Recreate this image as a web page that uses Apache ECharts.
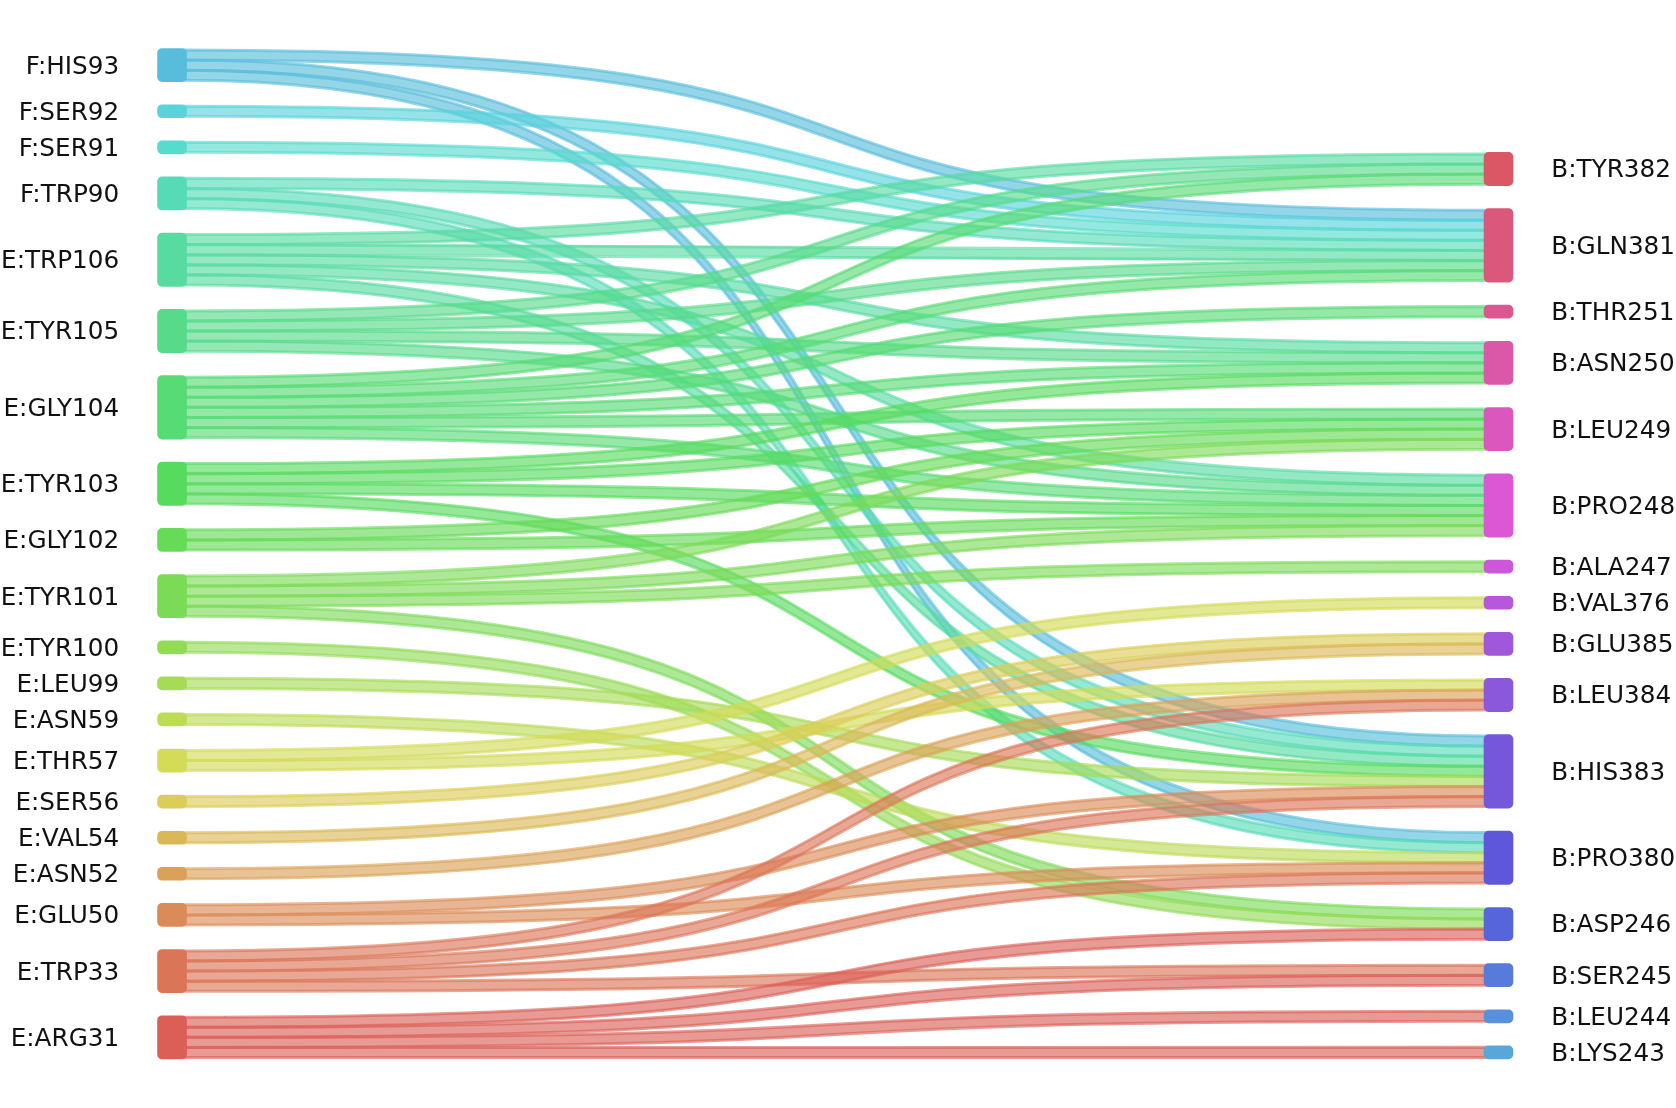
<!DOCTYPE html>
<html>
<head>
<meta charset="utf-8">
<script src="https://cdn.jsdelivr.net/npm/echarts@6/dist/echarts.min.js"></script>
<style>
html,body{margin:0;padding:0;background:#ffffff;}
#chart{width:1676px;height:1108px;}
</style>
</head>
<body>
<div id="chart"></div>
<script>
// ---------------- data ----------------
// left column, top to bottom
const leftNodes = ['F:HIS93','F:SER92','F:SER91','F:TRP90','E:TRP106','E:TYR105','E:GLY104','E:TYR103','E:GLY102','E:TYR101','E:TYR100','E:LEU99','E:ASN59','E:THR57','E:SER56','E:VAL54','E:ASN52','E:GLU50','E:TRP33','E:ARG31'];
// right column, top to bottom
const rightNodes = ['B:TYR382','B:GLN381','B:THR251','B:ASN250','B:LEU249','B:PRO248','B:ALA247','B:VAL376','B:GLU385','B:LEU384','B:HIS383','B:PRO380','B:ASP246','B:SER245','B:LEU244','B:LYS243'];

const linkSources = [
  'F:HIS93','F:HIS93','F:HIS93',
  'F:SER92',
  'F:SER91',
  'F:TRP90','F:TRP90','F:TRP90',
  'E:TRP106','E:TRP106','E:TRP106','E:TRP106','E:TRP106',
  'E:TYR105','E:TYR105','E:TYR105','E:TYR105',
  'E:GLY104','E:GLY104','E:GLY104','E:GLY104','E:GLY104','E:GLY104',
  'E:TYR103','E:TYR103','E:TYR103','E:TYR103',
  'E:GLY102','E:GLY102',
  'E:TYR101','E:TYR101','E:TYR101','E:TYR101',
  'E:TYR100',
  'E:LEU99',
  'E:ASN59',
  'E:THR57','E:THR57',
  'E:SER56',
  'E:VAL54',
  'E:ASN52',
  'E:GLU50','E:GLU50',
  'E:TRP33','E:TRP33','E:TRP33','E:TRP33',
  'E:ARG31','E:ARG31','E:ARG31','E:ARG31'
];
const linkTargets = [
  'B:GLN381','B:HIS383','B:PRO380',
  'B:GLN381',
  'B:GLN381',
  'B:GLN381','B:HIS383','B:PRO380',
  'B:TYR382','B:GLN381','B:ASN250','B:PRO248','B:HIS383',
  'B:TYR382','B:GLN381','B:ASN250','B:PRO248',
  'B:TYR382','B:GLN381','B:THR251','B:ASN250','B:LEU249','B:PRO248',
  'B:ASN250','B:LEU249','B:PRO248','B:HIS383',
  'B:LEU249','B:PRO248',
  'B:LEU249','B:PRO248','B:ALA247','B:ASP246',
  'B:ASP246',
  'B:HIS383',
  'B:PRO380',
  'B:VAL376','B:LEU384',
  'B:GLU385',
  'B:GLU385',
  'B:LEU384',
  'B:HIS383','B:PRO380',
  'B:LEU384','B:HIS383','B:PRO380','B:SER245',
  'B:ASP246','B:SER245','B:LEU244','B:LYS243'
];
const linkValues = [
  1,1,1, 1, 1, 1,1,1, 1,1,1,1,1, 1,1,1,1, 1,1,1,1,1,1, 1,1,1,1, 1,1, 1,1,1,1,
  1, 1, 1, 1,1, 1, 1, 1, 1,1, 1,1,1,1, 1,1,1,1
];

// ---------------- style / layout ----------------
const TOP = 50, BOTTOM = 50.5, NODE_GAP = 26, NODE_W = 26;
const LINK_ALPHA = 0.63;

// seaborn-like "hls" palette (l=0.6, s=0.65, hue offset 0.01)
function hlsColor(i, n) {
  const h = ((i / n) + 0.01) % 1, l = 0.6, s = 0.65;
  const m2 = l + s - l * s, m1 = 2 * l - m2;
  const v = (hh) => {
    hh = ((hh % 1) + 1) % 1;
    if (hh < 1 / 6) return m1 + (m2 - m1) * hh * 6;
    if (hh < 0.5) return m2;
    if (hh < 2 / 3) return m1 + (m2 - m1) * (2 / 3 - hh) * 6;
    return m1;
  };
  return [v(h + 1 / 3), v(h), v(h - 1 / 3)].map(x => Math.round(x * 255));
}
// colour order: left column bottom->top, then right column bottom->top
const colorOrder = leftNodes.slice().reverse().concat(rightNodes.slice().reverse());
const colorOf = {};
colorOrder.forEach((name, i) => { colorOf[name] = hlsColor(i, colorOrder.length); });
const rgb = (c) => 'rgb(' + c.join(',') + ')';
const rgba = (c, a) => 'rgba(' + c.join(',') + ',' + a + ')';

// right column is packed against the bottom: an invisible spacer node fills the free room above it
const chartH = 1108 - TOP - BOTTOM;
const totalValue = linkValues.reduce((a, b) => a + b, 0);
const ky = (chartH - (leftNodes.length - 1) * NODE_GAP) / totalValue;
const spacerValue = 0.999 * (chartH - totalValue * ky - rightNodes.length * NODE_GAP) / ky;

const nodes = [];
leftNodes.forEach(n => nodes.push({
  name: n, depth: 0,
  itemStyle: { color: rgb(colorOf[n]), borderColor: rgb(colorOf[n]) },
  label: { position: 'left' }
}));
nodes.push({
  name: '__spacer__', depth: 1, value: spacerValue,
  itemStyle: { color: 'rgba(0,0,0,0)', borderColor: 'rgba(0,0,0,0)', borderWidth: 0 },
  label: { show: false }
});
rightNodes.forEach(n => nodes.push({
  name: n, depth: 1,
  itemStyle: { color: rgb(colorOf[n]), borderColor: rgb(colorOf[n]) },
  label: { position: 'right' }
}));

const links = linkSources.map((s, i) => ({
  source: s, target: linkTargets[i], value: linkValues[i],
  lineStyle: {
    color: rgba(colorOf[s], LINK_ALPHA),
    borderColor: rgba(colorOf[s], LINK_ALPHA),
    borderWidth: 3
  }
}));

const chart = echarts.init(document.getElementById('chart'), null, { renderer: 'canvas' });
chart.setOption({
  animation: false,
  backgroundColor: '#ffffff',
  tooltip: { show: false },
  series: [{
    type: 'sankey',
    left: 159, right: 164.5, top: TOP, bottom: BOTTOM,
    nodeWidth: NODE_W,
    nodeGap: NODE_GAP,
    nodeAlign: 'justify',
    layoutIterations: 0,
    draggable: false,
    emphasis: { disabled: true },
    data: nodes,
    links: links,
    itemStyle: { borderWidth: 3.6, borderRadius: 3 },
    lineStyle: { curveness: 0.66, opacity: 1 },
    label: {
      fontFamily: 'DejaVu Sans',
      fontSize: 24.7,
      color: '#111111',
      distance: 38,
      offset: [0, 2]
    }
  }]
});
</script>
</body>
</html>
